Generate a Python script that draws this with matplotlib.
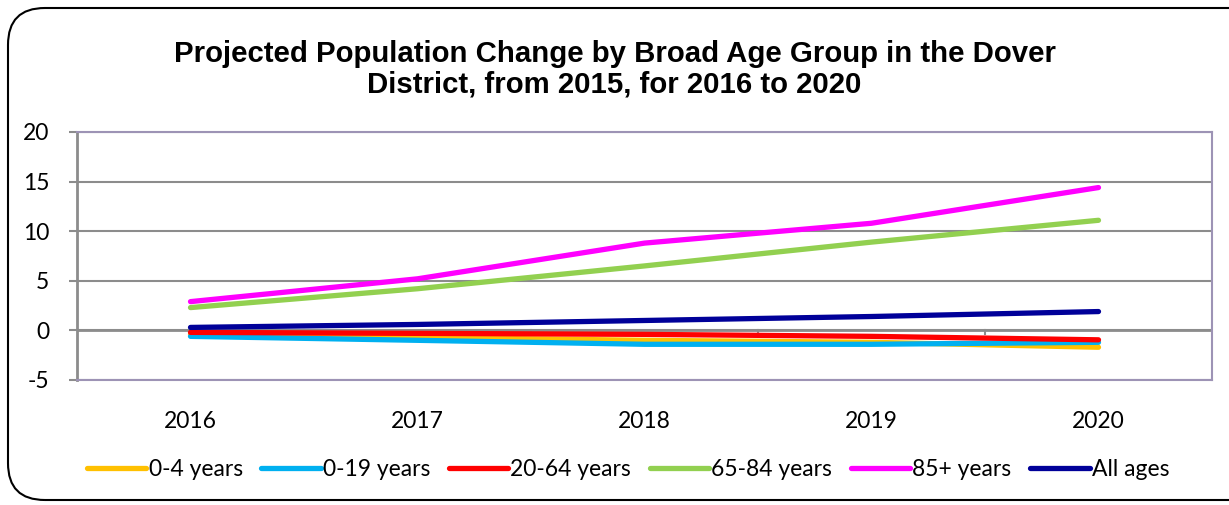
import matplotlib.pyplot as plt
from matplotlib.patches import FancyBboxPatch
from matplotlib.ticker import FuncFormatter

years = ['2016', '2017', '2018', '2019', '2020']
age_0_4 = [-0.4, -0.7, -1.0, -1.2, -1.7]
age_0_19 = [-0.6, -1.0, -1.4, -1.4, -1.2]
age_20_64 = [-0.2, -0.3, -0.4, -0.6, -0.95]
age_65_84 = [2.3, 4.2, 6.5, 8.9, 11.1]
age_85p = [2.9, 5.2, 8.8, 10.8, 14.4]
all_ages = [0.3, 0.6, 1.0, 1.4, 1.9]

series = [
    ('0-4 years', age_0_4, '#FFC000'),
    ('0-19 years', age_0_19, '#00B0F0'),
    ('20-64 years', age_20_64, '#FF0000'),
    ('65-84 years', age_65_84, '#92D050'),
    ('85+ years', age_85p, '#FF00FF'),
    ('All ages', all_ages, '#000099'),
]

plt.rcParams['font.family'] = ['Lato', 'DejaVu Sans']

fig = plt.figure(figsize=(12.29, 5.05), dpi=100)
ax = fig.add_axes([77 / 1229, 1 - 380 / 505, (1212 - 77) / 1229, (380 - 132) / 505])

x = range(len(years))
for name, vals, col in series:
    ax.plot(x, vals, color=col, lw=3.8, solid_capstyle='round', label=name)

ax.set_xlim(-0.5, 4.5)
ax.set_ylim(-5, 20)
ax.set_yticks([-5, 0, 5, 10, 15, 20])
ax.yaxis.set_major_formatter(FuncFormatter(lambda v, p: '%d' % v))
ax.yaxis.grid(True, color='#8c8c8c', lw=1.5)
ax.set_axisbelow(True)
ax.axhline(0, color='#8c8c8c', lw=2, zorder=0.5)
for b in [0.5, 1.5, 2.5, 3.5]:
    ax.plot([b, b], [0, -0.35], color='#8c8c8c', lw=1.5, zorder=0.5, clip_on=False)

ax.set_xticks(list(x))
ax.set_xticklabels(years)
ax.tick_params(axis='x', length=0, pad=22, labelsize=16.5)
ax.tick_params(axis='y', length=6, width=1.5, color='#8c8c8c', labelsize=16.5, pad=14)
for s in ['top', 'bottom', 'right']:
    ax.spines[s].set_color('#9d93b5')
    ax.spines[s].set_linewidth(1.5)
ax.spines['left'].set_color('#8c8c8c')
ax.spines['left'].set_linewidth(2)

fig.text(0.5, 1 - 69 / 505,
         'Projected Population Change by Broad Age Group in the Dover\nDistrict, from 2015, for 2016 to 2020',
         ha='center', va='center', fontsize=21.2, fontweight='bold',
         family=['Liberation Sans', 'DejaVu Sans'], linespacing=1.12)

fig.legend(loc='center', bbox_to_anchor=(628 / 1229, 1 - 470 / 505), ncol=6, frameon=False,
           fontsize=16.5, handlelength=2.6, handletextpad=0.1, columnspacing=0.8)

border = FancyBboxPatch((8 / 1229, 1 - 500 / 505), 1.2, (500 - 8) / 505,
                        boxstyle='round,pad=0,rounding_size=0.03', transform=fig.transFigure,
                        fill=False, ec='black', lw=1.5, mutation_aspect=1229 / 505)
fig.patches.append(border)

fig.savefig('out.png', dpi=100)
